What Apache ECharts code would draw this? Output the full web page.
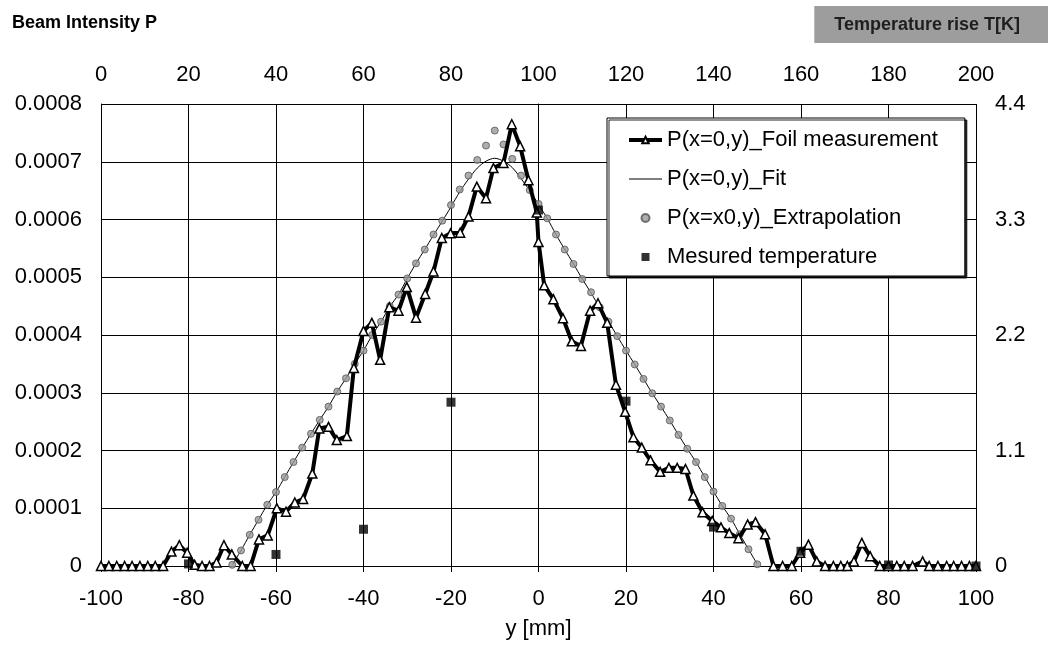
<!DOCTYPE html>
<html>
<head>
<meta charset="utf-8">
<title>Beam Intensity P</title>
<script src="https://cdn.jsdelivr.net/npm/echarts@6/dist/echarts.min.js"></script>
<style>
  html, body { margin: 0; padding: 0; background: #fff; }
  #chart { width: 1048px; height: 647px; }
</style>
</head>
<body>
<div id="chart"></div>
<script>
// Foil measurement P(x=0,y): position y [mm] and beam intensity
const foilY = [
  -100, -98.2, -96.4, -94.6, -92.9, -91.1, -89.3, -87.6, -85.8, -83.9,
  -82.1, -80.3, -78.6, -76.9, -75.2, -73.6, -71.9, -70.1, -67.7, -65.8,
  -63.9, -61.9, -59.8, -57.7, -55.7, -53.8, -51.7, -50.1, -48.0, -46.1,
  -43.8, -42.2, -40.0, -38.1, -36.2, -34.1, -32.0, -30.1, -28.0, -25.9,
  -24.0, -22.1, -20.1, -17.9, -16.0, -14.1, -12.0, -10.3, -8.0, -6.1,
  -4.2, -2.3, -0.4, 0.0, 1.3, 3.4, 5.6, 7.6, 9.7, 11.8,
  13.6, 15.7, 17.7, 19.8, 21.7, 23.6, 25.6, 27.8, 29.8, 31.7,
  33.6, 35.4, 37.5, 39.7, 41.7, 43.6, 45.7, 47.8, 49.6, 51.8,
  53.7, 55.8, 57.9, 59.8, 61.7, 63.6, 65.5, 67.4, 69.1, 70.6,
  72.1, 73.9, 75.8, 78.0, 80.0, 81.9, 83.6, 85.5, 87.8, 89.3,
  91.3, 93.3, 94.9, 96.7, 98.5, 100
];
const foilP = [
  0, 0, 0, 0, 0, 0, 0, 0, 0, 0.000025,
  0.000036, 0.000023, 0.000002, 0, 0, 0.000006, 0.000036, 0.00002, 0, 0,
  0.000046, 0.000053, 0.0001, 0.000094, 0.00011, 0.000116, 0.00016, 0.000238, 0.000241, 0.000218,
  0.000225, 0.000343, 0.000407, 0.000421, 0.000357, 0.000448, 0.000442, 0.000483, 0.00043, 0.000471,
  0.00051, 0.000568, 0.000576, 0.000577, 0.000605, 0.000657, 0.000637, 0.000689, 0.000698, 0.000765,
  0.000727, 0.000668, 0.000612, 0.000561, 0.000486, 0.000462, 0.000429, 0.000389, 0.000381, 0.000442,
  0.000455, 0.000421, 0.000314, 0.000267, 0.000223, 0.000205, 0.000183, 0.000163, 0.00017, 0.00017,
  0.000168, 0.000122, 0.000093, 0.000078, 0.000067, 0.000057, 0.000048, 0.000072, 0.000076, 0.000055,
  0, 0, 0, 0.000023, 0.000037, 0.000008, 0, 0, 0, 0,
  0.000008, 0.00004, 0.000017, 0, 0, 0, 0, 0, 0.000008, 0,
  0, 0, 0, 0, 0, 0
];

// Fit P(x=0,y)
const fitY = [
  -70, -68, -66, -64, -62, -60, -58, -56, -54, -52, -50, -48, -46, -44, -42, -40,
  -38, -36, -34, -32, -30, -28, -26, -24, -22, -20, -18, -16, -14, -12, -10, -8,
  -6, -4, -2, 0, 2, 4, 6, 8, 10, 12, 14, 16, 18, 20, 22, 24,
  26, 28, 30, 32, 34, 36, 38, 40, 42, 44, 46, 48, 50
];
const fitP = [
  0.000002, 0.000027, 0.000054, 0.00008, 0.000106, 0.000128, 0.000154, 0.00018, 0.000205, 0.000229, 0.000253, 0.000276, 0.000302, 0.000325, 0.00035, 0.000373,
  0.0004, 0.000423, 0.000449, 0.00047, 0.000498, 0.000524, 0.000548, 0.000573, 0.000597, 0.000622, 0.000648, 0.00067, 0.000689, 0.000701, 0.000706, 0.000701,
  0.00069, 0.000671, 0.00065, 0.000626, 0.000602, 0.000574, 0.000548, 0.000523, 0.000497, 0.000473, 0.000447, 0.000423, 0.000398, 0.000373, 0.000349, 0.000324,
  0.000299, 0.000276, 0.000252, 0.000227, 0.000203, 0.00018, 0.000154, 0.000129, 0.000104, 0.000082, 0.000055, 0.000029, 0.000003
];

// Extrapolation P(x=x0,y)
const extrapY = [
  -70, -68, -66, -64, -62, -60, -58, -56, -54, -52, -50, -48, -46, -44, -42, -40,
  -38, -36, -34, -32, -30, -28, -26, -24, -22, -20, -18, -16, -14, -12, -10, -8,
  -6, -4, -2, 0, 2, 4, 6, 8, 10, 12, 14, 16, 18, 20, 22, 24,
  26, 28, 30, 32, 34, 36, 38, 40, 42, 44, 46, 48, 50
];
const extrapP = [
  0.000002, 0.000027, 0.000054, 0.00008, 0.000106, 0.000128, 0.000154, 0.00018, 0.000205, 0.000229, 0.000253, 0.000276, 0.000302, 0.000325, 0.00035, 0.000373,
  0.0004, 0.000423, 0.00045, 0.00047, 0.000498, 0.000524, 0.000548, 0.000574, 0.000598, 0.000625, 0.000652, 0.000676, 0.000703, 0.000728, 0.000754, 0.00073,
  0.000705, 0.000676, 0.000651, 0.000627, 0.000602, 0.000574, 0.000548, 0.000523, 0.000497, 0.000474, 0.000448, 0.000423, 0.000398, 0.000373, 0.000349, 0.000324,
  0.000299, 0.000276, 0.000252, 0.000227, 0.000203, 0.00018, 0.000154, 0.000129, 0.000104, 0.000082, 0.000055, 0.000029, 0.000003
];

// Measured temperature rise T [K] (right axis)
const tempY = [-80, -60, -40, -20, 0, 20, 40, 60, 80, 100];
const tempK = [0.02, 0.11, 0.35, 1.56, 3.39, 1.57, 0.37, 0.14, 0.01, 0];

const seriesNames = [
  'P(x=0,y)_Foil measurement',
  'P(x=0,y)_Fit',
  'P(x=x0,y)_Extrapolation',
  'Mesured temperature'
];

const pairs = (xs, ys) => xs.map((x, i) => [x, ys[i]]);

const FONT = '"Liberation Sans", Arial, Helvetica, sans-serif';
const labelStyle = { color: '#000', fontSize: 22, fontFamily: FONT };
const blackLine = { lineStyle: { color: '#000', width: 1 } };
const hidden = 'rgba(0,0,0,0)';

const chart = echarts.init(document.getElementById('chart'), null, { renderer: 'canvas' });

chart.setOption({
  animation: false,
  backgroundColor: '#fff',
  title: [
    {
      text: 'Beam Intensity P',
      left: 12, top: 14, padding: 0,
      textStyle: { color: '#000', fontSize: 18, fontWeight: 'bold', fontFamily: FONT }
    },
    {
      text: 'Temperature rise T[K]',
      right: 0, top: 6,
      padding: [10, 28, 9, 20],
      backgroundColor: '#9d9d9d',
      textStyle: { color: '#1e1e1e', fontSize: 18, fontWeight: 'bold', fontFamily: FONT }
    }
  ],
  legend: {
    data: [
      { name: seriesNames[0], lineStyle: { width: 4 } },
      // thin line only, no marker
      {
        name: seriesNames[1],
        lineStyle: { width: 1 },
        itemStyle: { color: hidden, borderColor: hidden, borderWidth: 0 }
      },
      { name: seriesNames[2] },
      { name: seriesNames[3], icon: 'path://M0,0H1V1H0Z' }
    ],
    orient: 'vertical',
    left: 607, top: 118,
    padding: [11, 27, 8, 20],
    itemGap: 17,
    itemWidth: 33,
    itemHeight: 8,
    backgroundColor: '#fff',
    borderColor: '#000',
    borderWidth: 1,
    shadowColor: 'rgba(0,0,0,0.85)',
    shadowOffsetX: 2,
    shadowOffsetY: 2,
    shadowBlur: 0,
    textStyle: labelStyle
  },
  grid: { left: 101, right: 72, top: 104, bottom: 81, containLabel: false },
  xAxis: [
    {
      type: 'value', position: 'bottom',
      min: -100, max: 100, interval: 20,
      name: 'y [mm]', nameLocation: 'middle', nameGap: 52,
      nameTextStyle: labelStyle,
      axisLine: blackLine,
      axisTick: { show: true, length: 6, lineStyle: { color: '#000' } },
      axisLabel: Object.assign({ margin: 22 }, labelStyle),
      splitLine: { show: true, lineStyle: { color: '#000', width: 1 } }
    },
    {
      type: 'value', position: 'top',
      min: 0, max: 200, interval: 20,
      axisLine: blackLine,
      axisTick: { show: true, length: 6, lineStyle: { color: '#000' } },
      axisLabel: Object.assign({ margin: 18 }, labelStyle),
      splitLine: { show: false }
    }
  ],
  yAxis: [
    {
      type: 'value', position: 'left',
      min: 0, max: 0.0008, interval: 0.0001,
      axisLine: { show: true, lineStyle: { color: '#000', width: 1 } },
      axisTick: { show: true, length: 6, lineStyle: { color: '#000' } },
      axisLabel: Object.assign({
        margin: 19,
        formatter: v => (v === 0 ? '0' : v.toFixed(4))
      }, labelStyle),
      splitLine: { show: true, lineStyle: { color: '#000', width: 1 } }
    },
    {
      type: 'value', position: 'right',
      min: 0, max: 4.4, interval: 1.1,
      axisLine: { show: true, lineStyle: { color: '#000', width: 1 } },
      axisTick: { show: true, length: 6, lineStyle: { color: '#000' } },
      axisLabel: Object.assign({
        margin: 19,
        formatter: v => (v === 0 ? '0' : v.toFixed(1))
      }, labelStyle),
      splitLine: { show: false }
    }
  ],
  series: [
    {
      name: seriesNames[1],
      type: 'line',
      xAxisIndex: 0, yAxisIndex: 0,
      data: pairs(fitY, fitP),
      smooth: 0.3,
      symbol: 'none',
      lineStyle: { color: '#000', width: 1 },
      itemStyle: { color: '#000' },
      z: 2
    },
    {
      name: seriesNames[2],
      type: 'scatter',
      xAxisIndex: 0, yAxisIndex: 0,
      data: pairs(extrapY, extrapP),
      symbol: 'circle',
      symbolSize: 7,
      itemStyle: { color: '#9a9a9a', borderColor: '#555', borderWidth: 1 },
      z: 3
    },
    {
      name: seriesNames[0],
      type: 'line',
      xAxisIndex: 0, yAxisIndex: 0,
      data: pairs(foilY, foilP),
      symbol: 'triangle',
      symbolSize: 9,
      showAllSymbol: true,
      lineStyle: { color: '#000', width: 4 },
      itemStyle: { color: '#fff', borderColor: '#000', borderWidth: 1.5 },
      z: 4
    },
    {
      name: seriesNames[3],
      type: 'scatter',
      xAxisIndex: 0, yAxisIndex: 1,
      data: pairs(tempY, tempK),
      symbol: 'rect',
      symbolSize: 9,
      itemStyle: { color: '#000' },
      z: 5
    }
  ]
});
</script>
</body>
</html>
